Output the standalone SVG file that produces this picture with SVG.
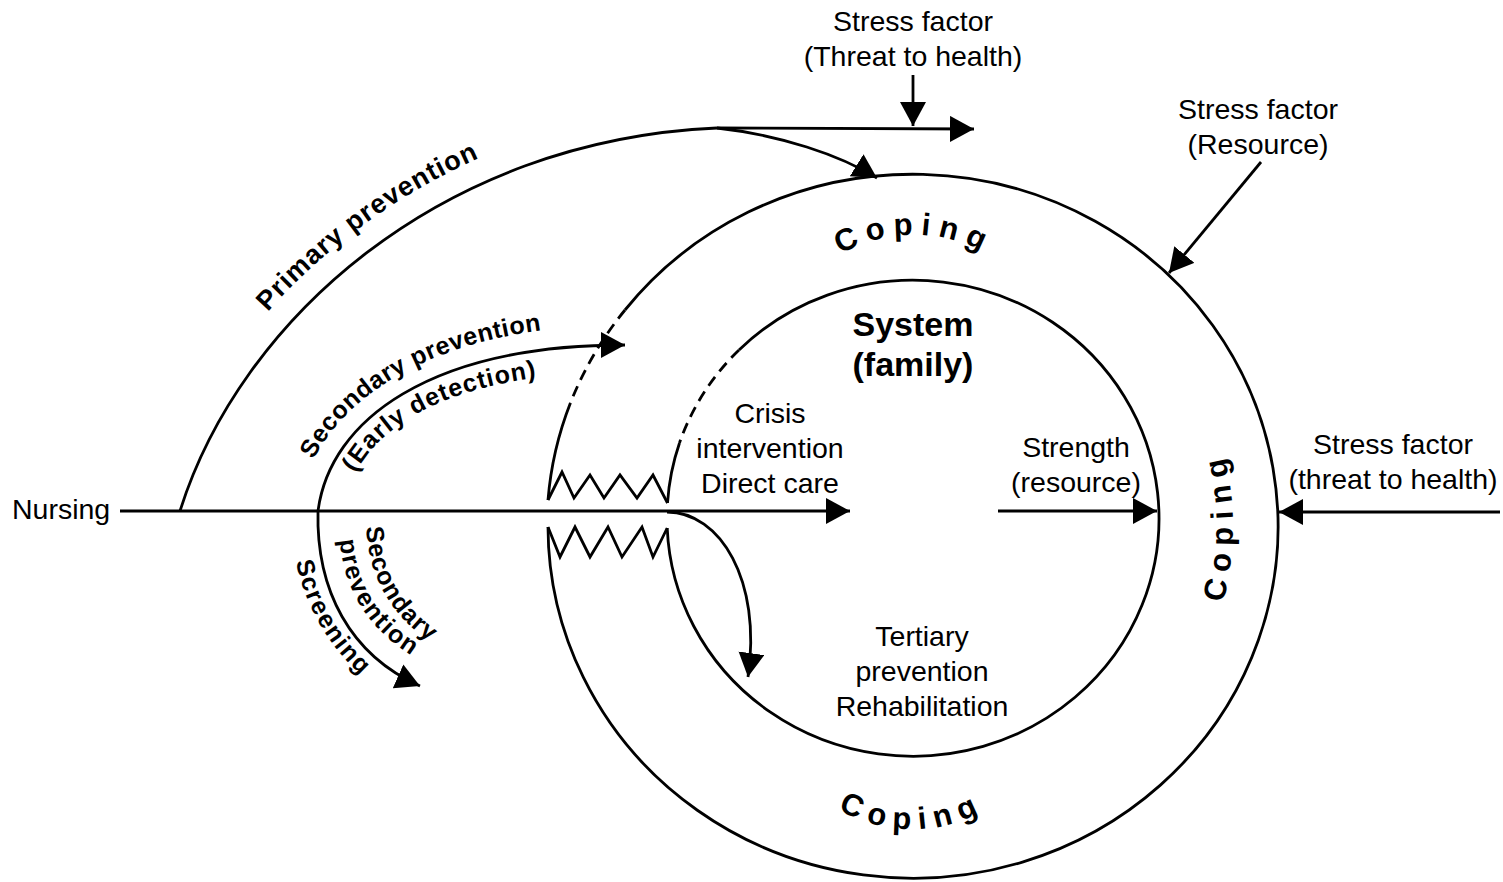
<svg xmlns="http://www.w3.org/2000/svg" width="1503" height="882" viewBox="0 0 1503 882">
<style>
.ln{fill:none;stroke:#000;stroke-width:2.8}
.dash{fill:none;stroke:#000;stroke-width:2.8;stroke-dasharray:11 7}
.t{font-family:"Liberation Sans",Arial,sans-serif;font-size:28.5px;fill:#000;text-anchor:middle}
.tb{font-family:"Liberation Sans",Arial,sans-serif;font-size:34px;font-weight:bold;fill:#000;text-anchor:middle}
.cv{font-family:"Liberation Sans",Arial,sans-serif;font-size:25px;font-weight:bold;fill:#000}
.cop{font-family:"Liberation Sans",Arial,sans-serif;font-size:31px;font-weight:bold;fill:#000;letter-spacing:8px}
</style>
<defs>
<marker id="ah" markerUnits="userSpaceOnUse" markerWidth="26" markerHeight="28" refX="24" refY="13" orient="auto" viewBox="0 0 26 28">
<path d="M0,0 L24,13 L0,26 z" fill="#000"/>
</marker>
<path id="pPrim" d="M156,502 C 224,300 430,117 714,103"/>
<path id="pSecOut" d="M298,507 C 314,408 424,326 622,325"/>
<path id="pSecIn" d="M344,513 C 351,436 438,370 640,371"/>
<path id="pScr" d="M291,510 C 290,596 332,675 430,720"/>
<path id="pPrev" d="M339,510 C 336,585 364,640 455,678"/>
<path id="pSec2" d="M366,505 C 364,575 385,625 480,672"/>
<path id="pCopTop" d="M773,333.7 A 150 150 0 0 1 1055,333.7"/>
<path id="pCopBot" d="M771,730.3 A 150 150 0 0 0 1053,730.3"/>
<path id="pCopR" d="M1192.8,676 A 300 300 0 0 0 1192.8,376"/>
</defs>

<g id="outer-ring">
<path class="ln" d="M548,527 A 365 352 0 1 0 625,310"/>
<path class="dash" d="M625,310 A 365 352 0 0 0 570.4,403"/>
<path class="ln" d="M570.4,403 A 365 352 0 0 0 548,500"/>
<polyline class="ln" points="548,500 562,472 574,498 590,475 604,498 620,475 637,498 653,475 667.5,503"/>
<polyline class="ln" points="548,527 560,557 575,527 590,557 608,527 622,557 642,527 653,557 667.2,528"/>
</g>

<g id="inner-ring">
<path class="ln" d="M667.2,528 A 246 238 0 1 0 739,350"/>
<path class="dash" d="M739,350 A 246 238 0 0 0 679.5,443"/>
<path class="ln" d="M679.5,443 A 246 238 0 0 0 667.5,503"/>
</g>

<g id="connectors">
<path class="ln" d="M120,511 L850,511" marker-end="url(#ah)"/>
<path class="ln" d="M180,511 C 240,320 440,140 717,128"/>
<path class="ln" d="M717,128 L974,129" marker-end="url(#ah)"/>
<path class="ln" d="M717,128 C 780,135 840,155 877,178" marker-end="url(#ah)"/>
<path class="ln" d="M913,75 L913,126" marker-end="url(#ah)"/>
<path class="ln" d="M1261,162 L1169,273" marker-end="url(#ah)"/>
<path class="ln" d="M1500,512 L1279,512" marker-end="url(#ah)"/>
<path class="ln" d="M998,511 L1157,511" marker-end="url(#ah)"/>
<path class="ln" d="M318,511 C 330,420 430,345 625,345" marker-end="url(#ah)"/>
<path class="ln" d="M318,511 C 316,590 350,655 420,686" marker-end="url(#ah)"/>
<path class="ln" d="M667,512 C 720,512 762,580 748,677" marker-end="url(#ah)"/>
</g>

<g id="labels">
<text class="t" x="913" y="31">Stress factor</text>
<text class="t" x="913" y="66">(Threat to health)</text>
<text class="t" x="1258" y="119">Stress factor</text>
<text class="t" x="1258" y="154">(Resource)</text>
<text class="t" x="1393" y="454">Stress factor</text>
<text class="t" x="1393" y="489">(threat to health)</text>
<text class="t" x="12" y="519" style="text-anchor:start">Nursing</text>
<text class="tb" x="913" y="336">System</text>
<text class="tb" x="913" y="376">(family)</text>
<text class="t" x="770" y="423">Crisis</text>
<text class="t" x="770" y="458">intervention</text>
<text class="t" x="770" y="493">Direct care</text>
<text class="t" x="1076" y="457">Strength</text>
<text class="t" x="1076" y="492">(resource)</text>
<text class="t" x="922" y="646">Tertiary</text>
<text class="t" x="922" y="681">prevention</text>
<text class="t" x="922" y="716">Rehabilitation</text>
</g>

<g id="curved-labels">
<text class="cv" style="font-size:27px;letter-spacing:1px"><textPath href="#pPrim" startOffset="222">Primary prevention</textPath></text>
<text class="cv" style="letter-spacing:0.5px"><textPath href="#pSecOut" startOffset="50">Secondary prevention</textPath></text>
<text class="cv" style="letter-spacing:1px"><textPath href="#pSecIn" startOffset="42">(Early detection)</textPath></text>
<text class="cv" style="letter-spacing:1.5px"><textPath href="#pScr" startOffset="52">Screening</textPath></text>
<text class="cv" style="letter-spacing:1.5px"><textPath href="#pPrev" startOffset="30">prevention</textPath></text>
<text class="cv" style="letter-spacing:1px"><textPath href="#pSec2" startOffset="22">Secondary</textPath></text>
<text class="cop"><textPath href="#pCopTop" startOffset="50%" text-anchor="middle">Coping</textPath></text>
<text class="cop"><textPath href="#pCopBot" startOffset="50%" text-anchor="middle">Coping</textPath></text>
<text class="cop"><textPath href="#pCopR" startOffset="50%" text-anchor="middle">Coping</textPath></text>
</g>
</svg>
